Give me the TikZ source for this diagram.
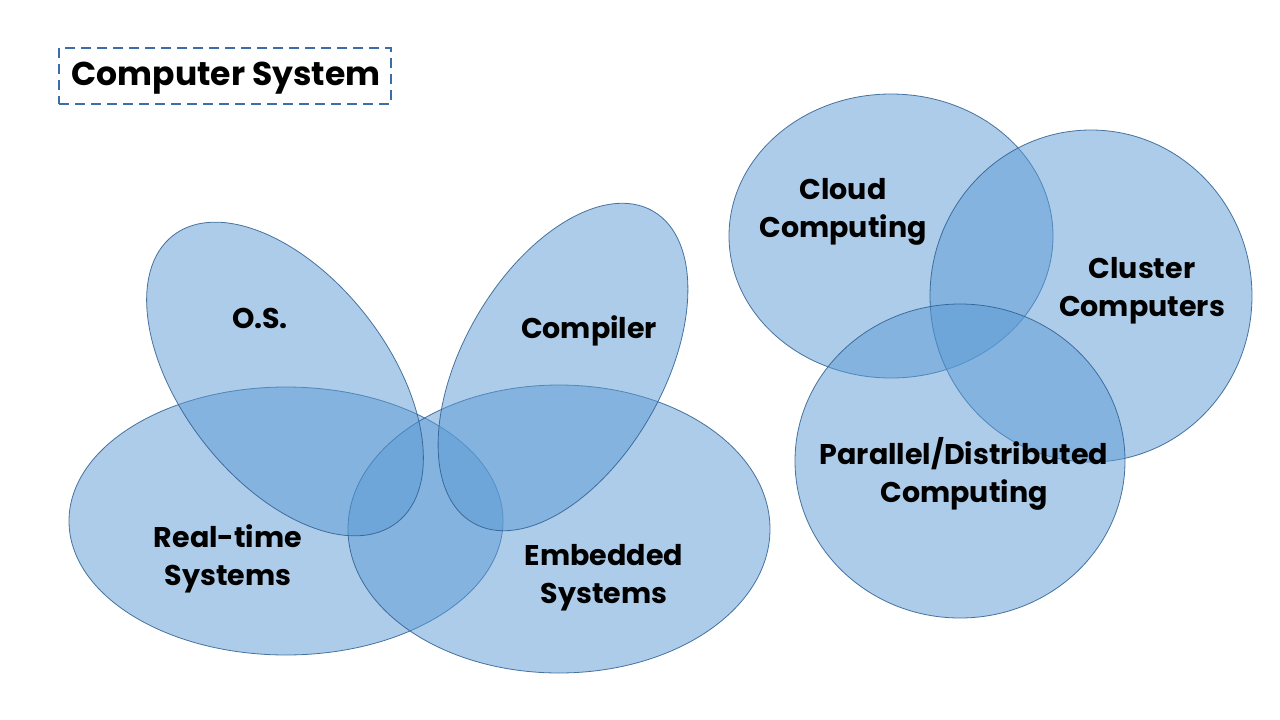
\documentclass[tikz,border=0pt]{standalone}
\usepackage{fontspec}
\setmainfont{Poppins}
\definecolor{setfill}{RGB}{91,155,213}
\definecolor{setline}{RGB}{47,95,145}
\definecolor{titleline}{RGB}{58,110,165}
\tikzset{
  setshape/.style={fill=setfill, fill opacity=0.5, draw=setline, draw opacity=0.85, line width=0.8pt},
  lbl/.style={font=\bfseries\fontsize{28.5}{38}\selectfont, align=center, text=black, inner sep=0pt},
  titlebox/.style={draw=titleline, dashed, dash pattern=on 10pt off 6pt, line width=2.4pt, minimum width=332pt, minimum height=56pt, inner sep=0pt}
}
\begin{document}
\begin{tikzpicture}[x=1pt,y=-1pt]
\useasboundingbox[fill=white] (0,0) rectangle (1280,720);
% left group
\path[setshape] (286,521) ellipse [x radius=217pt, y radius=134pt];
\path[setshape] (559,529) ellipse [x radius=211pt, y radius=144pt];
\path[setshape, shift={(285,379)}, rotate=-52] (0,0) ellipse [x radius=182pt, y radius=103pt];
\path[setshape, shift={(563,367)}, rotate=60] (0,0) ellipse [x radius=180pt, y radius=100pt];
% right group
\path[setshape] (891,236) ellipse [x radius=162pt, y radius=142pt];
\path[setshape] (1091,296) ellipse [x radius=161pt, y radius=166pt];
\path[setshape] (960,461) ellipse [x radius=165pt, y radius=157pt];
% labels
\node[titlebox] (title) at (225,76) {};
\node[font=\bfseries\fontsize{33}{38}\selectfont, inner sep=0pt] (titletext) at (226,78) {Computer System};
\node[lbl] (os) at (260,318) {O.S.};
\node[lbl] (comp) at (589,331) {Compiler};
\node[lbl] (rt) at (228,559) {Real-time\\Systems};
\node[lbl] (emb) at (604,578) {Embedded\\Systems};
\node[lbl] (cloud) at (843,212) {Cloud\\Computing};
\node[lbl] (clus) at (1142,291) {Cluster\\Computers};
\node[lbl] (par) at (964,474) {Parallel/Distributed\\Computing};
\end{tikzpicture}
\end{document}
